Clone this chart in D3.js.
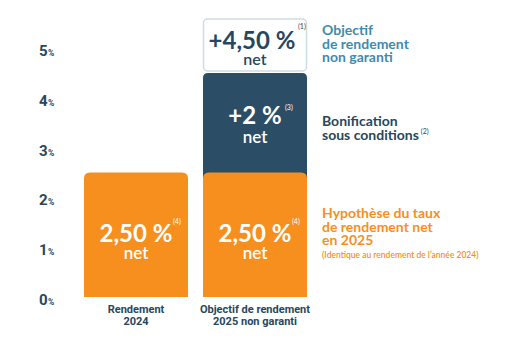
<!DOCTYPE html>
<html><head><meta charset="utf-8">
<script src="https://cdn.jsdelivr.net/npm/d3@7"></script>
<style>
html,body{margin:0;padding:0;background:#fff;}
svg{display:block;}
</style></head>
<body>
<svg id="chart" width="515" height="344"></svg>
<script>
const categories = ["Rendement|2024", "Objectif de rendement|2025 non garanti"];
const baseValues = [2.5, 2.5];
const bonusValues = [0, 2];
const baseLabels = ["2,50 %", "2,50 %"];
const bonusLabels = ["", "+2 %"];
const targetValue = 4.5;
const targetLabel = "+4,50 %";
const yTicks = [0, 1, 2, 3, 4, 5];

const C = {orange:"#f78f1e", blue:"#2c4d66", text:"#27475e", teal:"#3f8aae", border:"#cddce5"};

const svg = d3.select("#chart");
const y = d3.scaleLinear().domain([0, 5]).range([297, 48]);
const x = d3.scaleBand().domain(categories).range([84, 307]).paddingInner(0.126).paddingOuter(0);
const bw = x.bandwidth();

function topRounded(x0, y0, w, h, r) {
  return `M${x0},${y0+h}V${y0+r}Q${x0},${y0} ${x0+r},${y0}H${x0+w-r}Q${x0+w},${y0} ${x0+w},${y0+r}V${y0+h}Z`;
}

// axis labels
const ax = svg.append("g");
yTicks.forEach(t => {
  const tx = ax.append("text").attr("x", 39).attr("y", y(t) + 8)
    .attr("font-family", "Roboto, sans-serif").attr("font-weight", 700).attr("fill", C.text);
  tx.append("tspan").attr("font-size", 15).text(t);
  tx.append("tspan").attr("font-size", 8.5).attr("dx", 0.5).text("%");
});

// bonus (blue) segments
categories.forEach((c, i) => {
  if (!bonusValues[i]) return;
  const top = y(baseValues[i] + bonusValues[i]);
  const bot = y(baseValues[i]) + 6;
  svg.append("path").attr("d", topRounded(x(c), top, bw, bot - top, 5)).attr("fill", C.blue);
  const cx = x(c) + bw / 2, cy = (top + y(baseValues[i])) / 2;
  svg.append("text").attr("x", cx).attr("y", cy + 1).attr("text-anchor", "middle")
    .attr("font-family", "Lato, sans-serif").attr("font-weight", 700).attr("font-size", 24)
    .attr("fill", "#fff").text(bonusLabels[i]);
  svg.append("text").attr("x", cx + 30).attr("y", cy - 13)
    .attr("font-family", "Lato, sans-serif").attr("font-size", 7).attr("fill", "#fff").text("(3)");
  svg.append("text").attr("x", cx).attr("y", cy + 20).attr("text-anchor", "middle")
    .attr("font-family", "Lato, sans-serif").attr("font-weight", 600).attr("font-size", 17)
    .attr("fill", "#fff").text("net");
});

// base (orange) segments
categories.forEach((c, i) => {
  const top = y(baseValues[i]);
  svg.append("path").attr("d", topRounded(x(c), top, bw, y(0) - top, 6)).attr("fill", C.orange);
  const cx = x(c) + bw / 2, cy = 235;
  svg.append("text").attr("x", cx).attr("y", cy + 7).attr("text-anchor", "middle")
    .attr("font-family", "Lato, sans-serif").attr("font-weight", 700).attr("font-size", 24)
    .attr("fill", "#fff").text(baseLabels[i]);
  svg.append("text").attr("x", cx + 37).attr("y", cy - 11)
    .attr("font-family", "Lato, sans-serif").attr("font-size", 7).attr("fill", "#fff").text("(4)");
  svg.append("text").attr("x", cx).attr("y", cy + 24).attr("text-anchor", "middle")
    .attr("font-family", "Lato, sans-serif").attr("font-weight", 600).attr("font-size", 17)
    .attr("fill", "#fff").text("net");
});

// target box
{
  const c = categories[1];
  const bot = y(targetValue) - 2, top = 19;
  svg.append("rect").attr("x", x(c) + 0.5).attr("y", top).attr("width", bw - 1).attr("height", bot - top)
    .attr("rx", 4).attr("fill", "#fff").attr("stroke", C.border).attr("stroke-width", 1.5);
  const cx = x(c) + bw / 2;
  svg.append("text").attr("x", cx - 3).attr("y", 49).attr("text-anchor", "middle")
    .attr("font-family", "Lato, sans-serif").attr("font-weight", 700).attr("font-size", 24)
    .attr("fill", C.text).text(targetLabel);
  svg.append("text").attr("x", cx + 43).attr("y", 29)
    .attr("font-family", "Lato, sans-serif").attr("font-size", 7).attr("fill", C.text).text("(1)");
  svg.append("text").attr("x", cx).attr("y", 65).attr("text-anchor", "middle")
    .attr("font-family", "Lato, sans-serif").attr("font-weight", 600).attr("font-size", 16)
    .attr("fill", C.text).text("net");
}

// category labels
categories.forEach(c => {
  const lines = c.split("|");
  const t = svg.append("text").attr("text-anchor", "middle")
    .attr("font-family", "Roboto, sans-serif").attr("font-weight", 700).attr("font-size", 11)
    .attr("fill", C.text);
  lines.forEach((l, j) => t.append("tspan").attr("x", x(c) + bw / 2).attr("y", 313 + j * 12).text(l));
});

// legend texts
function block(lines, x0, y0, lh, size, color, weight) {
  const t = svg.append("text").attr("font-family", "Lato, sans-serif").attr("font-weight", weight)
    .attr("font-size", size).attr("fill", color);
  lines.forEach((l, j) => t.append("tspan").attr("x", x0).attr("y", y0 + j * lh).text(l));
  return t;
}
block(["Objectif", "de rendement", "non garanti"], 322, 35, 13.5, 14, C.teal, 700);
const b = block(["Bonification", "sous conditions"], 322, 126, 13.5, 14, C.text, 700);
b.append("tspan").attr("font-size", 7).attr("font-weight", 400).attr("dx", 2).attr("dy", -6).text("(2)");
block(["Hypothèse du taux", "de rendement net", "en 2025"], 322, 218, 13.5, 14, C.orange, 700);
block(["(Identique au rendement de l’année 2024)"], 322, 258, 10, 8.5, C.orange, 600);
</script>
</body></html>
